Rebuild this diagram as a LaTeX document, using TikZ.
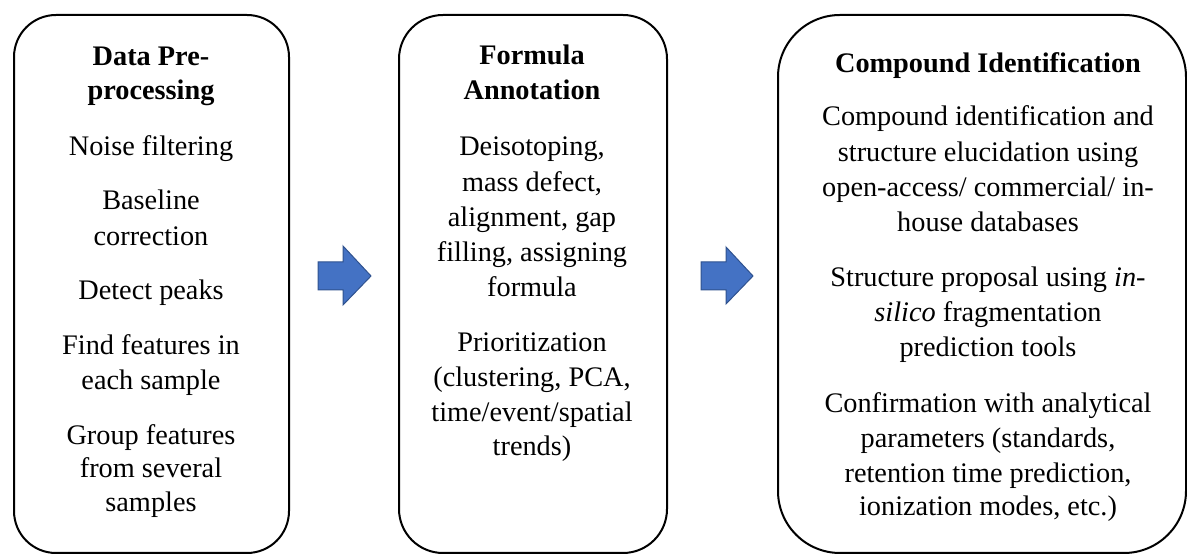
\documentclass[tikz,border=0pt]{standalone}
\usepackage{fontspec}
\setmainfont{LiberationSerif-Regular.ttf}[
  BoldFont=LiberationSerif-Bold.ttf,
  ItalicFont=LiberationSerif-Italic.ttf,
  BoldItalicFont=LiberationSerif-BoldItalic.ttf]
\begin{document}
\begin{tikzpicture}[x=1pt,y=1pt,
  stage/.style={draw=black,line width=2pt},
  txt/.style={anchor=base,inner sep=0pt,font=\fontsize{28.3}{35}\selectfont},
  head/.style={txt,font=\fontsize{28.3}{35}\selectfont\bfseries},
  blockarrow/.style={fill=arrowblue,draw=arrowedge,line width=1pt,line join=miter}]
\definecolor{arrowblue}{HTML}{4472C4}
\definecolor{arrowedge}{HTML}{2F528F}
\useasboundingbox (0,0) rectangle (1187,554);

% stage frames
\draw[stage,rounded corners=42pt] (14,1) rectangle (289,539);
\draw[stage,rounded corners=44pt] (399,1) rectangle (667,539);
\draw[stage,rounded corners=62pt] (778,1) rectangle (1186,539);

% block arrows between stages
\draw[blockarrow] (318,264) -- (343,264) -- (343,249) -- (371,278) -- (343,308)
  -- (343,292) -- (318,292) -- cycle;
\draw[blockarrow] (701,264) -- (726,264) -- (726,250) -- (753,278) -- (726,307)
  -- (726,292) -- (701,292) -- cycle;

% stage 1
\node[head] (a0) at (151,488) {Data Pre-};
\node[head] (a1) at (151,454) {processing};
\node[txt] (a2) at (151,398) {Noise filtering};
\node[txt] (a3) at (151,344) {Baseline};
\node[txt] (a4) at (151,308) {correction};
\node[txt] (a5) at (151,254) {Detect peaks};
\node[txt] (a6) at (151,199) {Find features in};
\node[txt] (a7) at (151,164) {each sample};
\node[txt] (a8) at (151,109) {Group features};
\node[txt] (a9) at (151,76) {from several};
\node[txt] (a10) at (151,42) {samples};

% stage 2
\node[head] (b0) at (532,489) {Formula};
\node[head] (b1) at (532,454) {Annotation};
\node[txt] (b2) at (532,398) {Deisotoping,};
\node[txt] (b3) at (532,362) {mass defect,};
\node[txt] (b4) at (532,327) {alignment, gap};
\node[txt] (b5) at (532,292) {filling, assigning};
\node[txt] (b6) at (532,257) {formula};
\node[txt] (b7) at (532,202) {Prioritization};
\node[txt] (b8) at (532,167) {(clustering, PCA,};
\node[txt] (b9) at (532,132) {time/event/spatial};
\node[txt] (b10) at (532,98) {trends)};

% stage 3
\node[head] (c0) at (988,481) {Compound Identification};
\node[txt] (c1) at (988,428) {Compound identification and};
\node[txt] (c2) at (988,392) {structure elucidation using};
\node[txt] (c3) at (988,357) {open-access/ commercial/ in-};
\node[txt] (c4) at (988,322) {house databases};
\node[txt] (c5) at (988,267) {Structure proposal using \textit{in-}};
\node[txt] (c6) at (988,232) {\textit{silico} fragmentation};
\node[txt] (c7) at (988,197) {prediction tools};
\node[txt] (c8) at (988,141) {Confirmation with analytical};
\node[txt] (c9) at (988,106) {parameters (standards,};
\node[txt] (c10) at (988,71) {retention time prediction,};
\node[txt] (c11) at (988,38) {ionization modes, etc.)};
\end{tikzpicture}
\end{document}
